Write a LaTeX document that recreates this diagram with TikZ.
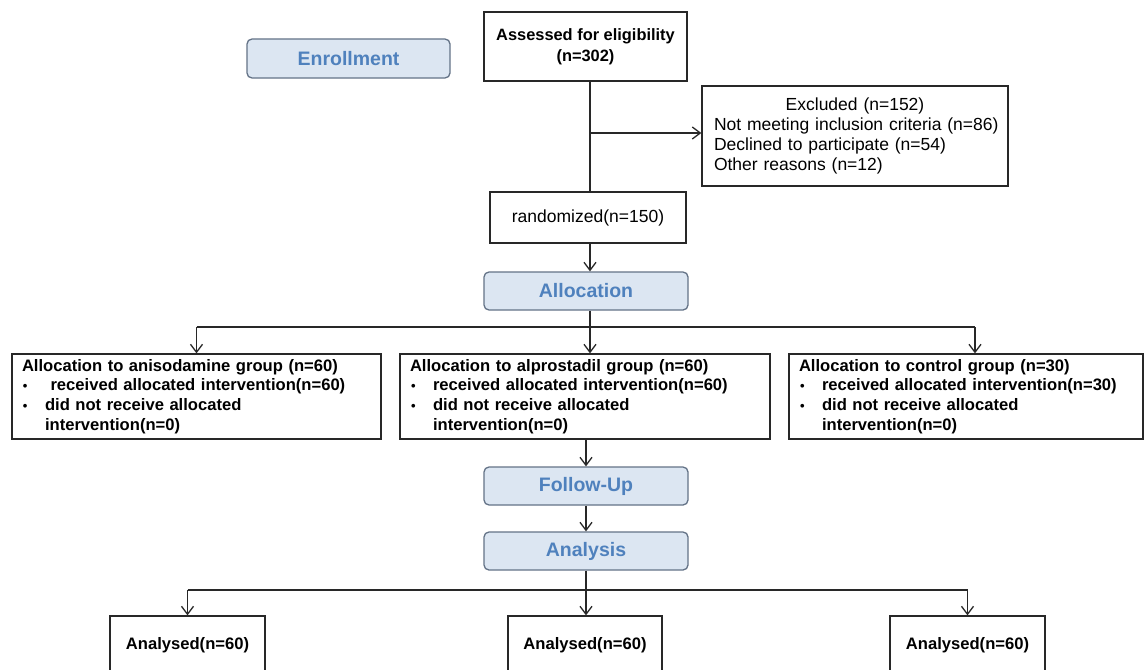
\documentclass[tikz,border=0pt]{standalone}
\usepackage{fontspec}
\setmainfont{Liberation Sans}
\usetikzlibrary{arrows.meta}
\definecolor{linec}{RGB}{40,40,40}
\definecolor{phasefill}{RGB}{220,230,242}
\definecolor{phaseline}{RGB}{100,115,135}
\definecolor{phasetext}{RGB}{79,129,189}
\newcommand\blt{\makebox[23pt][l]{\hspace{1pt}\raisebox{0.5pt}{\fontsize{13}{13}\selectfont•}}}
\begin{document}
\begin{tikzpicture}[x=1pt,y=-1pt,
  box/.style={draw=linec, line width=1.3pt, fill=white, inner sep=0pt},
  boldtxt/.style={font=\bfseries\fontsize{16.6}{19.7}\selectfont},
  regtxt/.style={font=\fontsize{17.5}{20.3}\selectfont},
  phase/.style={draw=phaseline, fill=phasefill, rounded corners=5pt, line width=1.3pt,
    text=phasetext, font=\bfseries\fontsize{19.5}{22}\selectfont,
    minimum width=204pt, minimum height=38pt, inner sep=0pt},
  arr/.style={-{Straight Barb[length=8pt,width=12pt]}, line width=1.3pt, draw=linec},
  ln/.style={line width=1.3pt, draw=linec}]
\useasboundingbox (0,0) rectangle (1145,669);
\clip (0,0) rectangle (1145,669);
\fill[white] (0,0) rectangle (1145,669);

% phase labels
\node[phase, minimum width=203pt, minimum height=39pt] (enroll) at (348.5,58.5) {Enrollment};
\node[phase] (alloc) at (586,291) {Allocation};
\node[phase] (fu) at (586,486) {Follow-Up};
\node[phase] (an) at (586,551) {Analysis};

% top boxes
\node[box, align=center, minimum width=203pt, minimum height=69pt,
  font=\bfseries\fontsize{16.4}{21}\selectfont] (assess) at (585.5,46.5)
  {Assessed for eligibility\\(n=302)};
\node[box, regtxt, align=left, text width=282pt, inner xsep=12pt, minimum height=100pt] (excl) at (855,136)
  {\makebox[282pt][c]{Excluded (n=152)}\\
   \mbox{Not meeting inclusion criteria (n=86)}\\
   \mbox{Declined to participate (n=54)}\\
   \mbox{Other reasons (n=12)}};
\node[box, regtxt, minimum width=196pt, minimum height=51pt] (rand) at (588,217.5) {randomized(n=150)};

% allocation groups
\node[box, boldtxt, align=left, text width=349pt, inner xsep=10pt, minimum height=85pt] (g1) at (196.5,396.5)
  {Allocation to anisodamine group (n=60)\\
   \blt\ received allocated intervention(n=60)\\
   \blt did not receive allocated\\
   \hspace*{23pt}intervention(n=0)};
\node[box, boldtxt, align=left, text width=350pt, inner xsep=10pt, minimum height=85pt] (g2) at (585,396.5)
  {Allocation to alprostadil group (n=60)\\
   \blt received allocated intervention(n=60)\\
   \blt did not receive allocated\\
   \hspace*{23pt}intervention(n=0)};
\node[box, boldtxt, align=left, text width=334pt, inner xsep=10pt, minimum height=85pt] (g3) at (966,396.5)
  {Allocation to control group (n=30)\\
   \blt received allocated intervention(n=30)\\
   \blt did not receive allocated\\
   \hspace*{23pt}intervention(n=0)};

% analysed boxes (cut by the lower edge)
\node[box, boldtxt, minimum width=155pt, minimum height=58pt] (a1) at (187.5,645) {Analysed(n=60)};
\node[box, boldtxt, minimum width=154pt, minimum height=58pt] (a2) at (585,645) {Analysed(n=60)};
\node[box, boldtxt, minimum width=155pt, minimum height=58pt] (a3) at (967.5,645) {Analysed(n=60)};

% connector coordinates
\coordinate (spine) at (590,0);
\coordinate (jx) at (590,133);
\coordinate (tm) at (590,327);
\coordinate (t1) at (196.5,327);
\coordinate (t3) at (975,327);
\coordinate (bm) at (586,590);
\coordinate (b1) at (187.5,590);
\coordinate (b3) at (967.5,590);
\coordinate (gx) at (586,0);

% connectors
\draw[ln] (assess.south -| spine) -- (rand.north -| spine);
\draw[arr] (jx) -- (jx -| excl.west);
\draw[arr] (rand.south -| spine) -- (alloc.north -| spine);
\draw[ln] (alloc.south -| spine) -- (tm);
\draw[ln] (t1) -- (t3);
\draw[arr] (t1) -- (t1 |- g1.north);
\draw[arr] (tm) -- (tm |- g2.north);
\draw[arr] (t3) -- (t3 |- g3.north);
\draw[arr] (g2.south -| gx) -- (fu.north);
\draw[arr] (fu.south) -- (an.north);
\draw[ln] (an.south) -- (bm);
\draw[ln] (b1) -- (b3);
\draw[arr] (b1) -- (a1.north);
\draw[arr] (bm) -- (bm |- a2.north);
\draw[arr] (b3) -- (a3.north);
\end{tikzpicture}
\end{document}
